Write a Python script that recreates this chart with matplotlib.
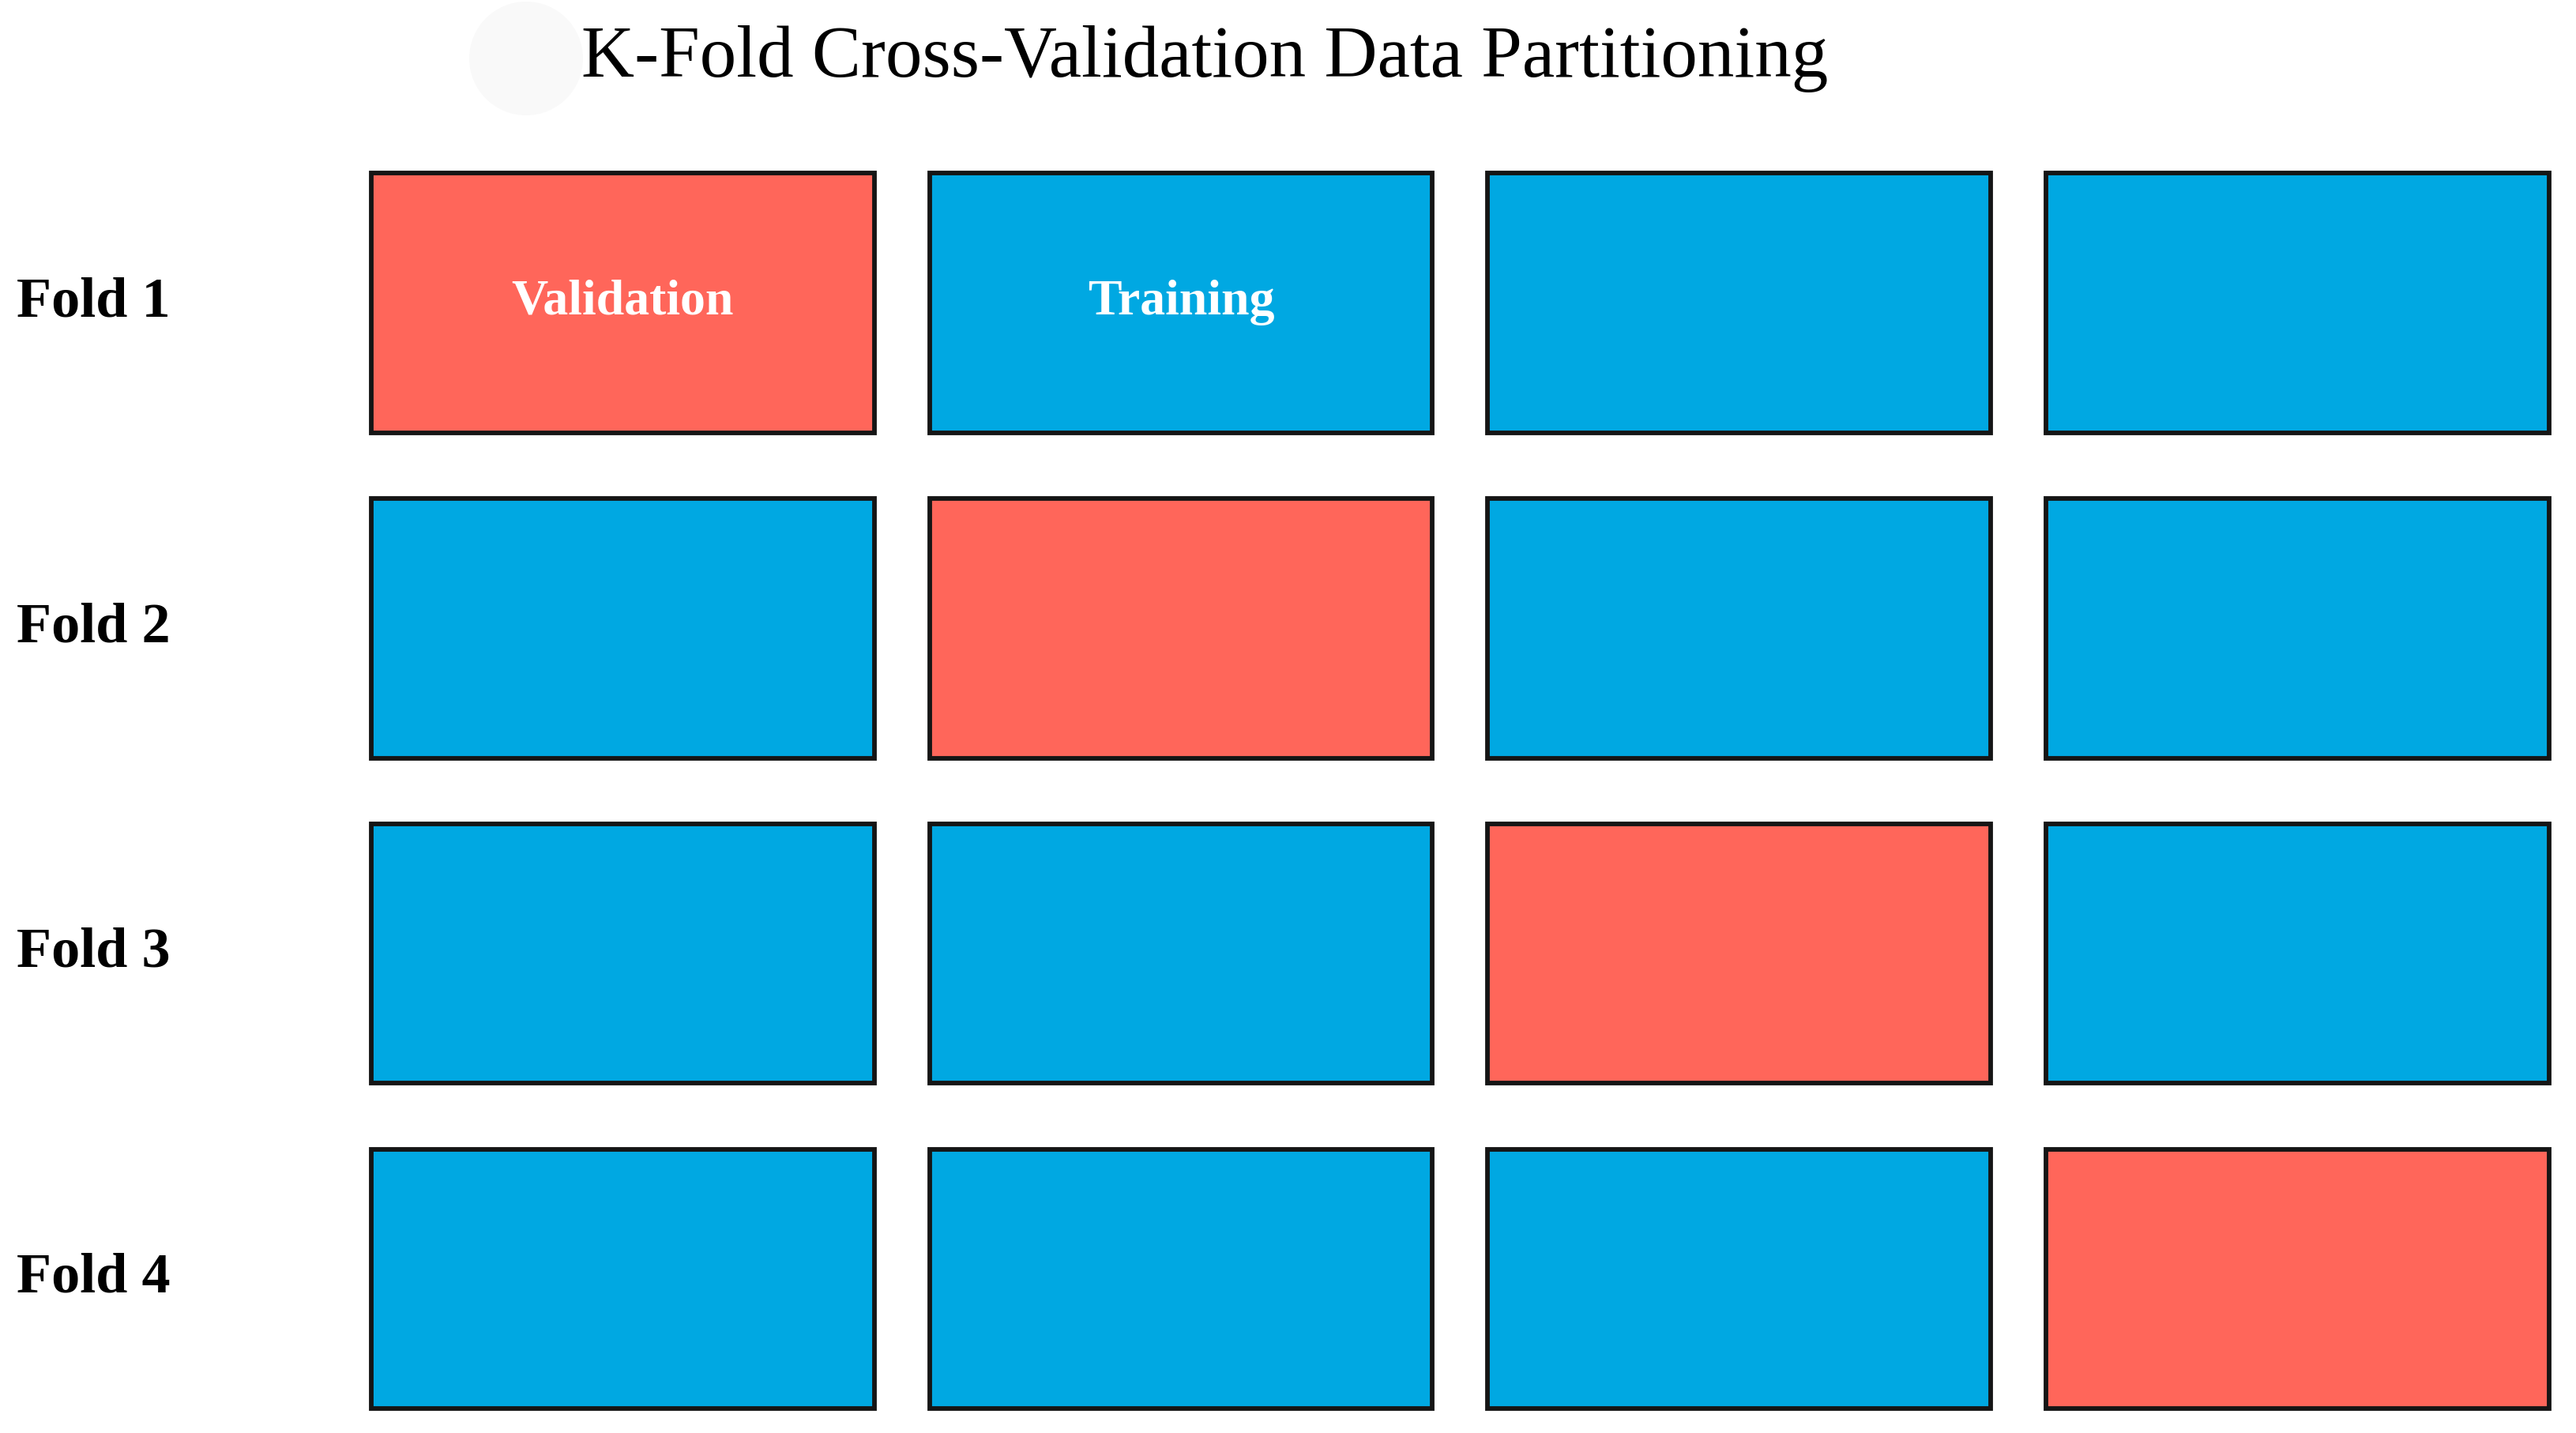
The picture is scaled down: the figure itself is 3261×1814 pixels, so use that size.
import matplotlib
matplotlib.use("Agg")
import matplotlib.pyplot as plt
from matplotlib.patches import Rectangle, Circle

# data
folds = ["Fold 1", "Fold 2", "Fold 3", "Fold 4"]
n_parts = 4
val_index = [0, 1, 2, 3]          # which part is the validation split in each fold
box_text = {(0, 0): "Validation", (0, 1): "Training"}
title = "K-Fold Cross-Validation Data Partitioning"

RED = "#FF665A"
BLUE = "#00A8E2"

plt.rcParams['font.family'] = ['Liberation Serif', 'DejaVu Serif']

fig = plt.figure(figsize=(32.62, 18.15), dpi=100)
ax = fig.add_axes([0, 0, 1, 1])
ax.set_xlim(-0.665, 3.951)
ax.set_ylim(3.873, -0.5345)
ax.axis("off")

bw, bh = 0.901, 0.798
for i, fold in enumerate(folds):
    for j in range(n_parts):
        col = RED if j == val_index[i] else BLUE
        ax.add_patch(Rectangle((j, i), bw, bh, facecolor=col,
                               edgecolor="#151515", linewidth=4.2))
        if (i, j) in box_text:
            ax.text(j + bw / 2, i + bh / 2 - 0.004, box_text[(i, j)], color="white",
                    fontsize=46, fontweight="bold", ha="center", va="center")
    ax.text(-0.635, i + bh / 2 - 0.004, fold, fontsize=52, fontweight="bold",
            ha="left", va="center")

# faint blob left of the title (in inches so it stays round)
fig.patches.append(Circle((6.66, 17.4), 0.72, transform=fig.dpi_scale_trans,
                          facecolor="#f9f9f9", edgecolor="none"))
fig.text(0.4675, 0.959, title, fontsize=67, ha="center", va="center")

fig.savefig("out.png", dpi=100)
